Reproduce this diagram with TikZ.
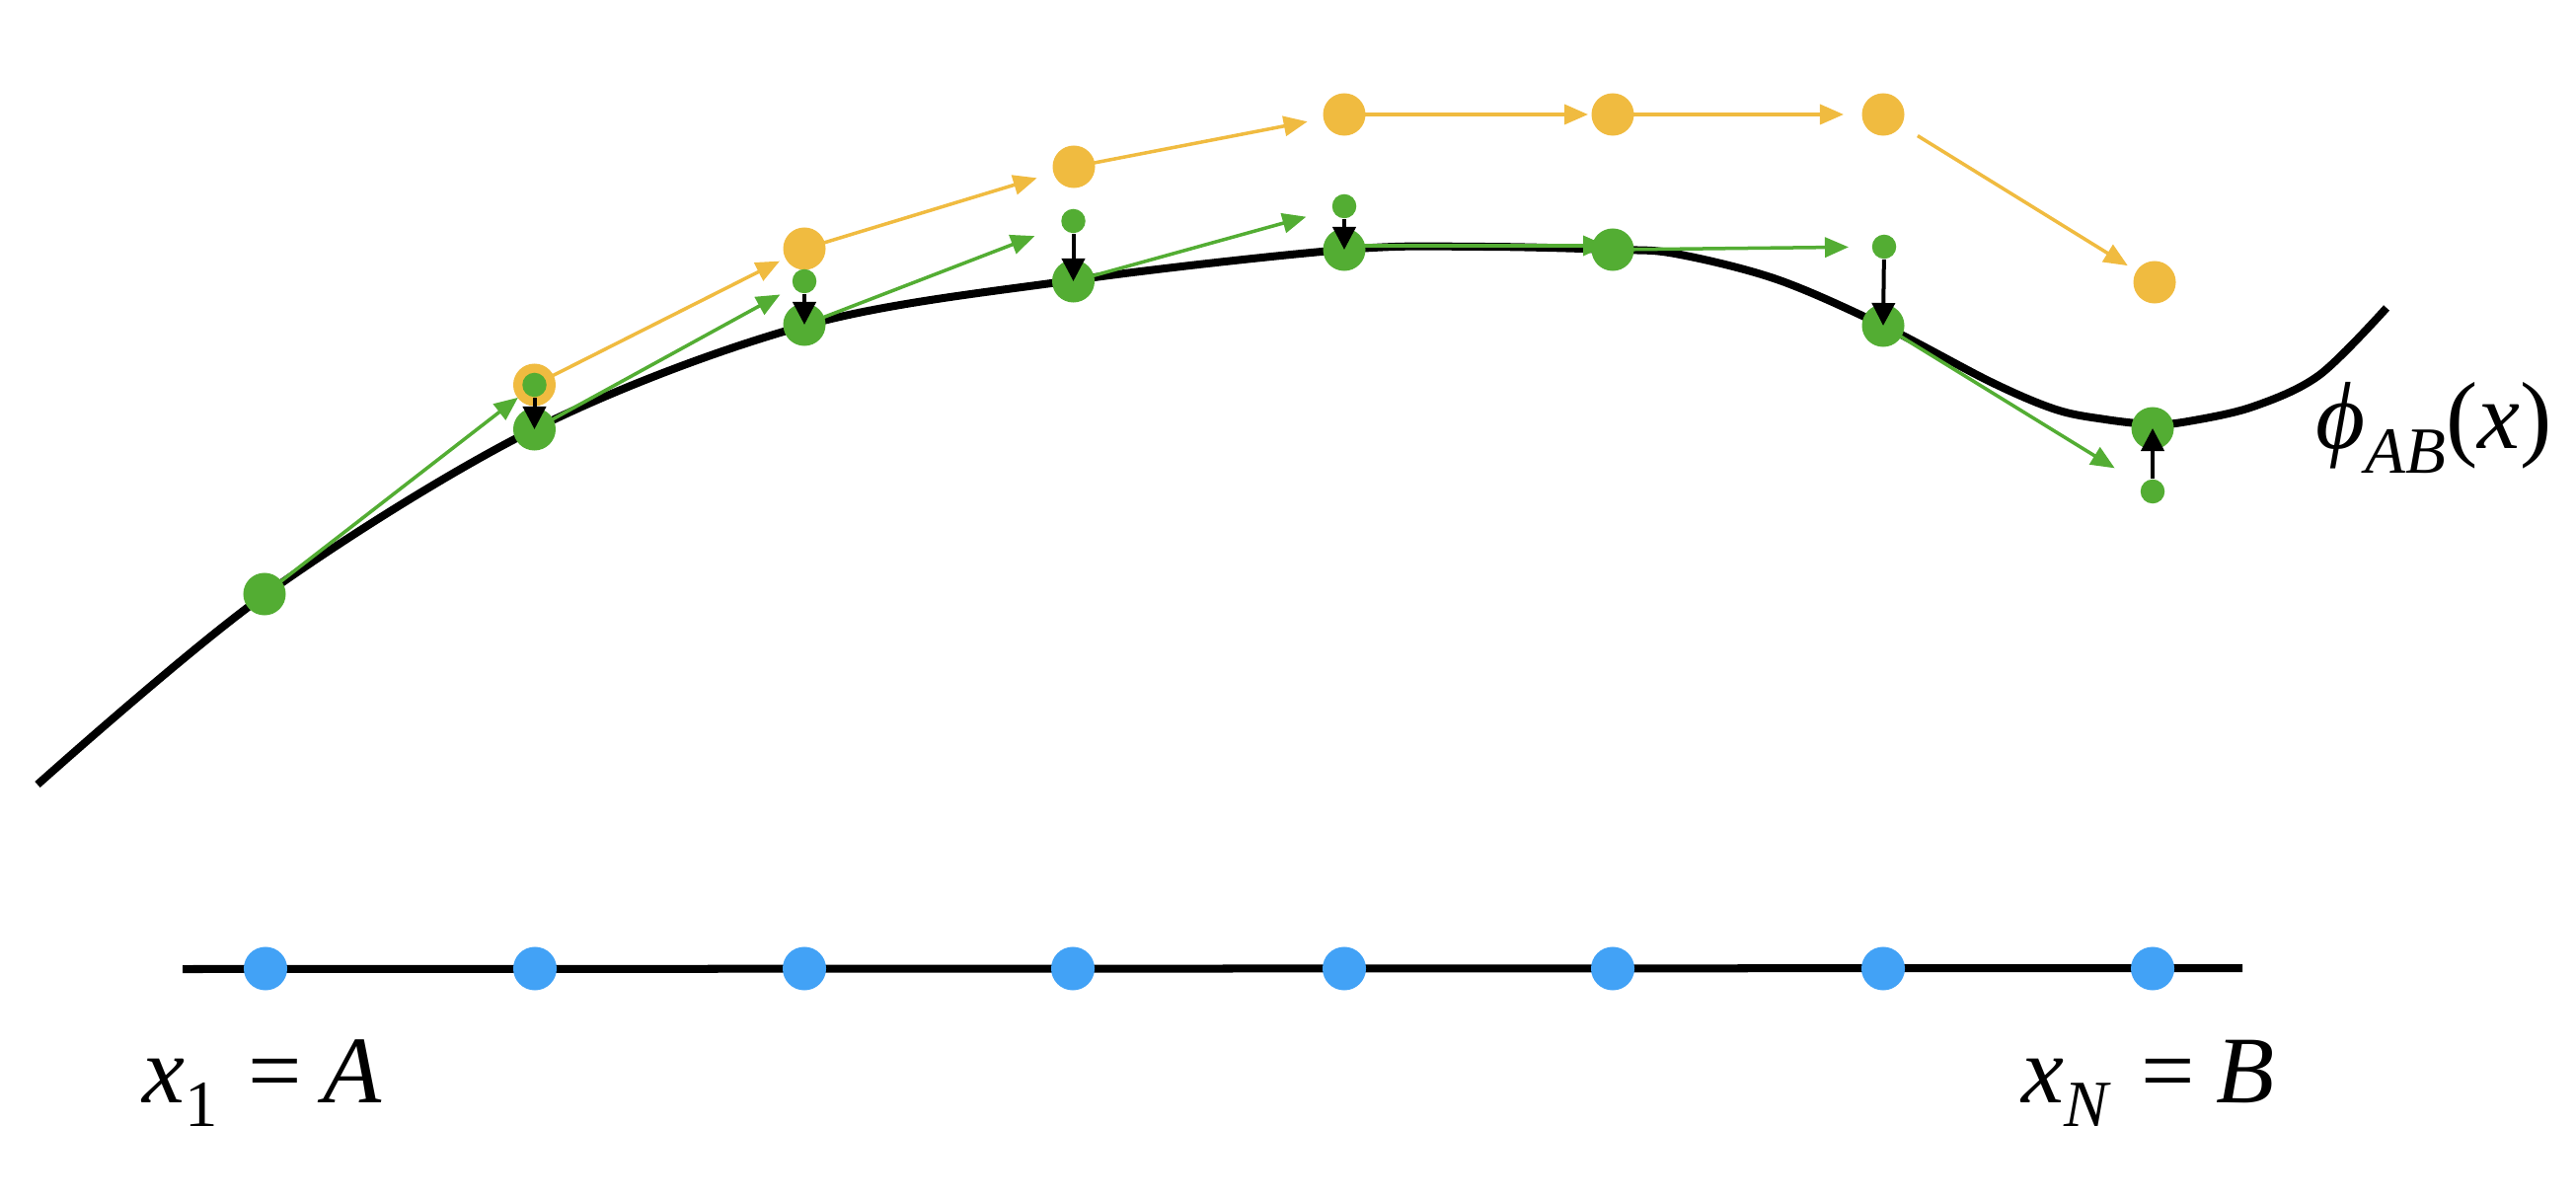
\documentclass[tikz,border=0pt]{standalone}
\usepackage{fontspec}
\usepackage{graphicx}
\setmainfont{Liberation Serif}
\usetikzlibrary{arrows.meta}
\definecolor{gr}{RGB}{83,173,51}
\definecolor{yl}{RGB}{240,187,64}
\definecolor{bl}{RGB}{66,162,246}
\newcommand{\lowsub}[1]{\raisebox{-0.24cm}{\fontsize{19}{19}\selectfont #1}}
\begin{document}
\begin{tikzpicture}[x=0.01cm,y=-0.01cm,
  bigdot/.style={circle,inner sep=0pt,minimum size=0.43cm},
  gdot/.style={bigdot,fill=gr},
  ydot/.style={bigdot,fill=yl},
  bdot/.style={circle,inner sep=0pt,minimum size=0.44cm,fill=bl},
  sdot/.style={circle,inner sep=0pt,minimum size=0.245cm,fill=gr},
  garrow/.style={draw=gr,line width=0.035cm,-{Triangle[length=0.24cm,width=0.2cm]}},
  yarrow/.style={draw=yl,line width=0.035cm,-{Triangle[length=0.24cm,width=0.2cm]}},
  parrow/.style={draw=black,line width=0.04cm,-{Triangle[length=0.23cm,width=0.23cm]}},
  lbl/.style={anchor=base west,inner sep=0pt,font=\fontsize{27.5}{33}\selectfont}]
\useasboundingbox (0,0) rectangle (2610,1216);

% curve
\draw[line width=0.08cm] plot[smooth,tension=0.55] coordinates {(38,795) (268,603) (541,435) (815,330) (1087,284) (1362,253) (1500,250) (1634,253) (1697,257) (1800,283) (1908,330) (2017,387) (2083,415) (2133,425) (2181,430) (2217,427) (2283,412) (2350,380) (2418,312)};

% axis
\coordinate (L0) at (185,982);
\coordinate (L1) at (2272,981);
\draw[line width=0.08cm] (L0) -- (L1);
\foreach \i/\x in {1/269,2/542,3/815,4/1087,5/1362,6/1634,7/1908,8/2181}
  \node[bdot] (b\i) at (\x,981.5) {};

% yellow dots
\node[ydot] (Y2) at (541.5,390) {};
\node[ydot] (Y3) at (815,252) {};
\node[ydot] (Y4) at (1088,169) {};
\node[ydot] (Y5) at (1362,116) {};
\node[ydot] (Y6) at (1634,116) {};
\node[ydot] (Y7) at (1908,116) {};
\node[ydot] (Y8) at (2183,286) {};

% green dots on curve
\node[gdot] (G1) at (268,602) {};
\node[gdot] (G2) at (541.5,435) {};
\node[gdot] (G3) at (815,329) {};
\node[gdot] (G4) at (1087.5,285) {};
\node[gdot] (G5) at (1362,253) {};
\node[gdot] (G6) at (1634,253) {};
\node[gdot] (G7) at (1908,330) {};
\node[gdot] (G8) at (2181,434) {};

% small green dots
\node[sdot] (S2) at (541.5,390) {};
\node[sdot] (S3) at (815,285) {};
\node[sdot] (S4) at (1087.5,224) {};
\node[sdot] (S5) at (1362,209) {};
\node[sdot] (S7) at (1909,250) {};
\node[sdot] (S8) at (2181,498) {};

% green arrows
\draw[garrow,shorten >=0.21cm] (G1.center) -- (S2.center);
\draw[garrow,shorten >=0.28cm] (G2.center) -- (S3.center);
\draw[garrow,shorten >=0.42cm] (G3.center) -- (S4.center);
\draw[garrow,shorten >=0.40cm] (G4.center) -- (S5.center);
\draw[garrow,shorten >=0.06cm] ([yshift=0.04cm]G5.center) -- ([yshift=0.04cm]G6.center);
\draw[garrow,shorten >=0.36cm] (G6.center) -- (S7.center);
\draw[garrow,shorten >=0.45cm] (G7.center) -- (S8.center);

% yellow arrows
\draw[yarrow,shorten <=0.21cm,shorten >=0.28cm] (Y2.center) -- (Y3.center);
\draw[yarrow,shorten <=0.21cm,shorten >=0.39cm] (Y3.center) -- (Y4.center);
\draw[yarrow,shorten <=0.21cm,shorten >=0.38cm] (Y4.center) -- (Y5.center);
\draw[yarrow,shorten <=0.19cm,shorten >=0.25cm] (Y5.center) -- (Y6.center);
\draw[yarrow,shorten <=0.21cm,shorten >=0.40cm] (Y6.center) -- (Y7.center);
\draw[yarrow,shorten <=0.41cm,shorten >=0.32cm] (Y7.center) -- (Y8.center);

% projection arrows
\draw[parrow] (S2) -- (G2.center);
\draw[parrow] (S3) -- (G3.center);
\draw[parrow] (S4) -- (G4.center);
\draw[parrow] (S5) -- (G5.center);
\draw[parrow] (S7) -- (G7.center);
\draw[parrow] (S8) -- (G8.center);

% labels
\node[lbl] (xA) at (144,1117) {\textit{x}\lowsub{1}\hspace{0.3cm}=\hspace{0.22cm}\textit{A}};
\node[lbl] (xB) at (2048,1117) {\textit{x}\lowsub{\textit{N}}\hspace{0.3cm}=\hspace{0.22cm}\textit{B}};
\node[lbl] (phi) at (2346,455) {\textit{ϕ}\lowsub{\textit{AB}}(\textit{x})};
\end{tikzpicture}
\end{document}
